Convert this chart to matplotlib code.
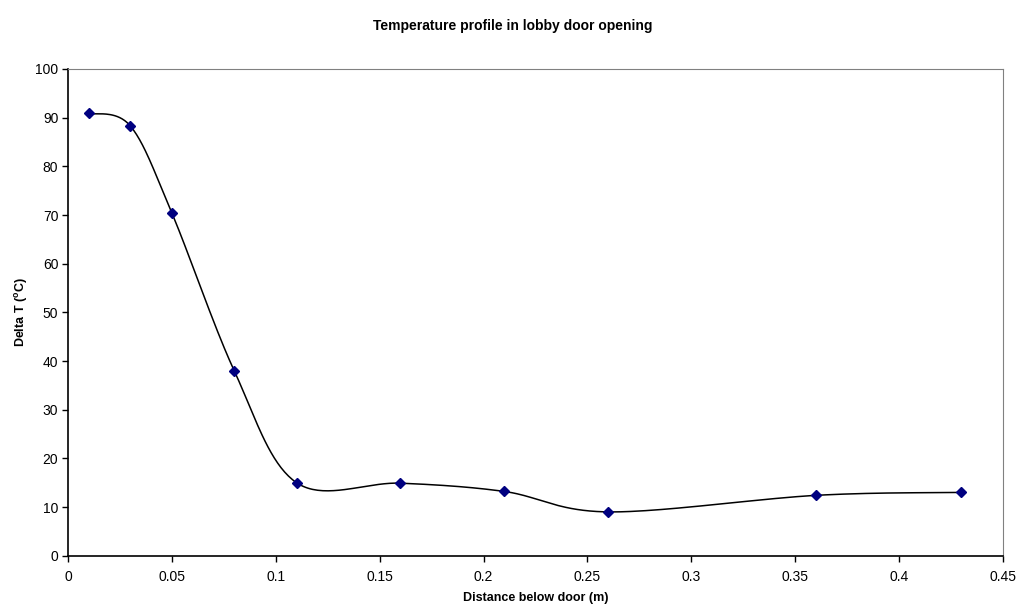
import numpy as np
import matplotlib
matplotlib.use("Agg")
import matplotlib.pyplot as plt

plt.rcParams["font.family"] = ["Liberation Sans", "DejaVu Sans"]

distance = [0.01, 0.03, 0.05, 0.08, 0.11, 0.16, 0.21, 0.26, 0.36, 0.43]
delta_t = [90.9, 88.3, 70.4, 38.0, 15.0, 14.9, 13.2, 9.0, 12.4, 13.0]


def smooth_curve(x, y, n=40):
    # Excel-style smoothed line: cubic Bezier segments with Catmull-Rom tangents
    p = np.column_stack([x, y])
    pts = []
    for i in range(len(p) - 1):
        p0 = p[max(i - 1, 0)]
        p1 = p[i]
        p2 = p[i + 1]
        p3 = p[min(i + 2, len(p) - 1)]
        c1 = p1 + (p2 - p0) / 6.0
        c2 = p2 - (p3 - p1) / 6.0
        t = np.linspace(0, 1, n)[:, None]
        seg = ((1 - t) ** 3 * p1 + 3 * (1 - t) ** 2 * t * c1
               + 3 * (1 - t) * t ** 2 * c2 + t ** 3 * p2)
        pts.append(seg if i == 0 else seg[1:])
    pts = np.vstack(pts)
    return pts[:, 0], pts[:, 1]


fig = plt.figure(figsize=(10.25, 6.13), dpi=100)
ax = fig.add_axes([68 / 1025, 1 - 555.7 / 613, (1003 - 68) / 1025, (555.7 - 69) / 613])

sx, sy = smooth_curve(distance, delta_t)
ax.plot(sx, sy, color="black", lw=1.1)
ax.plot(distance, delta_t, ls="none", marker="D", ms=5, color="#000080")

ax.set_xlim(0, 0.45)
ax.set_ylim(0, 100)
ax.set_xticks(np.arange(0, 0.451, 0.05))
ax.set_xticklabels(["0", "0.05", "0.1", "0.15", "0.2", "0.25", "0.3", "0.35", "0.4", "0.45"])
ax.set_yticks(np.arange(0, 101, 10))
ax.tick_params(direction="out", length=4, width=1, labelsize=10, pad=3)
ax.tick_params(axis="x", pad=6)

for side in ["top", "right"]:
    ax.spines[side].set_color("#808080")
for side in ["left", "bottom"]:
    ax.spines[side].set_color("black")
    ax.spines[side].set_linewidth(1.2)

ax.set_xlabel("Distance below door (m)", fontsize=9, fontweight="bold", labelpad=6)
ax.set_ylabel("Delta T ($^{\\mathregular{o}}$C)", fontsize=9, fontweight="bold", labelpad=4)
fig.text(0.5, 1 - 26 / 613, "Temperature profile in lobby door opening",
         ha="center", va="center", fontsize=10, fontweight="bold")

fig.savefig("out.png", dpi=100)
